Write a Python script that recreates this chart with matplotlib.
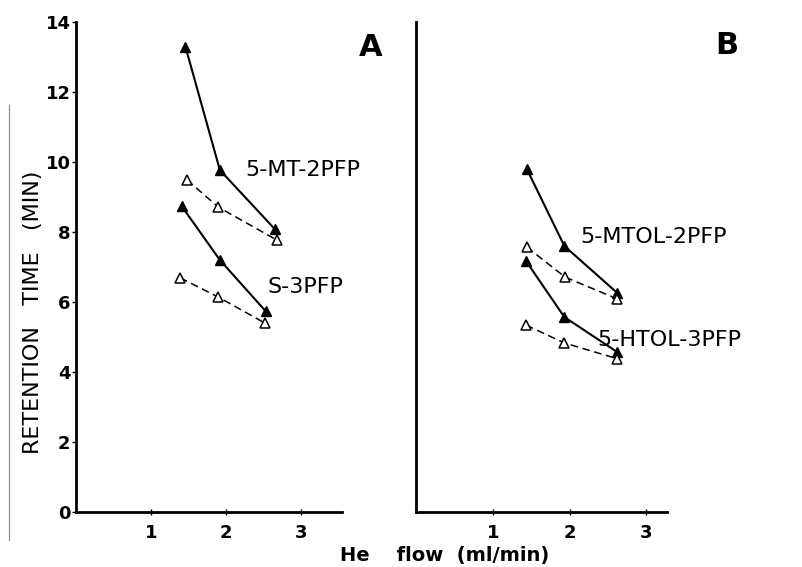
import matplotlib
matplotlib.use("Agg")
import matplotlib.pyplot as plt
from matplotlib.lines import Line2D

# ---- data (He flow in ml/min, retention time in min) ----
flow_mt_solid = [1.46, 1.92, 2.65]
rt_mt_solid = [13.3, 9.77, 8.09]
flow_mt_open = [1.48, 1.90, 2.68]
rt_mt_open = [9.49, 8.71, 7.77]
flow_s3_solid = [1.41, 1.92, 2.53]
rt_s3_solid = [8.74, 7.20, 5.74]
flow_s3_open = [1.39, 1.90, 2.52]
rt_s3_open = [6.69, 6.14, 5.40]

flow_mtol_solid = [1.44, 1.93, 2.62]
rt_mtol_solid = [9.80, 7.60, 6.26]
flow_mtol_open = [1.44, 1.94, 2.62]
rt_mtol_open = [7.57, 6.71, 6.09]
flow_htol_solid = [1.43, 1.93, 2.62]
rt_htol_solid = [7.17, 5.57, 4.57]
flow_htol_open = [1.43, 1.93, 2.62]
rt_htol_open = [5.34, 4.83, 4.38]

x_ticks = [1, 2, 3]
y_ticks = [0, 2, 4, 6, 8, 10, 12, 14]

W, H = 803, 567
fig = plt.figure(figsize=(W / 100, H / 100), dpi=100)
plt.rcParams['font.family'] = ['DejaVu Sans']

def fx(px):
    return px / W

def fy(py):
    return 1 - py / H

axA = fig.add_axes([fx(76), fy(512), fx(266), 490 / H])
axB = fig.add_axes([fx(416.5), fy(512), fx(250.5), 490 / H])

solid_kw = dict(color='black', lw=1.5, marker='^', ms=6.5, mfc='black', mec='black', ls='-')
open_kw = dict(color='black', lw=1.1, marker='^', ms=6.5, mfc='white', mec='black', mew=1.1,
               ls=(0, (5, 3)))

axA.plot(flow_mt_solid, rt_mt_solid, **solid_kw)
axA.plot(flow_mt_open, rt_mt_open, **open_kw)
axA.plot(flow_s3_solid, rt_s3_solid, **solid_kw)
axA.plot(flow_s3_open, rt_s3_open, **open_kw)

axB.plot(flow_mtol_solid, rt_mtol_solid, **solid_kw)
axB.plot(flow_mtol_open, rt_mtol_open, **open_kw)
axB.plot(flow_htol_solid, rt_htol_solid, **solid_kw)
axB.plot(flow_htol_open, rt_htol_open, **open_kw)

for ax, xmax in ((axA, 3.55), (axB, 3.27)):
    ax.set_xlim(0, xmax)
    ax.set_ylim(0, 14)
    for s in ('top', 'right'):
        ax.spines[s].set_visible(False)
    for s in ('left', 'bottom'):
        ax.spines[s].set_linewidth(2.0)
        ax.spines[s].set_color('black')
    ax.set_xticks(x_ticks)
    ax.set_xticklabels([str(t) for t in x_ticks], fontsize=13, fontweight='bold')
    ax.tick_params(axis='x', direction='inout', length=4, width=1, pad=7)
    ax.patch.set_alpha(0)

axA.set_yticks(y_ticks)
axA.set_yticklabels([str(t) for t in y_ticks], fontsize=13, fontweight='bold')
axA.tick_params(axis='y', direction='out', length=3, width=1, pad=1)
axB.set_yticks([])

# panel letters
fig.text(fx(371), fy(48), 'A', fontsize=22, fontweight='bold', ha='center', va='center')
fig.text(fx(727), fy(46), 'B', fontsize=22, fontweight='bold', ha='center', va='center')

# compound labels
lab_kw = dict(fontsize=16, ha='left', va='center')
fig.text(fx(245), fy(170), '5-MT-2PFP', **lab_kw)
fig.text(fx(268), fy(287), 'S-3PFP', **lab_kw)
fig.text(fx(580), fy(237), '5-MTOL-2PFP', **lab_kw)
fig.text(fx(597), fy(340), '5-HTOL-3PFP', **lab_kw)

# axis labels
fig.text(fx(33), fy(312), 'RETENTION   TIME   (MIN)', rotation=90, fontsize=16,
         ha='center', va='center')
fig.text(fx(445), fy(555), 'He    flow  (ml/min)', fontsize=14, fontweight='bold',
         ha='center', va='center')

# thin scan line at the far left
fig.add_artist(Line2D([fx(9), fx(9)], [fy(105), fy(540)], color='#888888', lw=0.8,
                      transform=fig.transFigure))

fig.savefig('out.png', dpi=100, facecolor='white')
